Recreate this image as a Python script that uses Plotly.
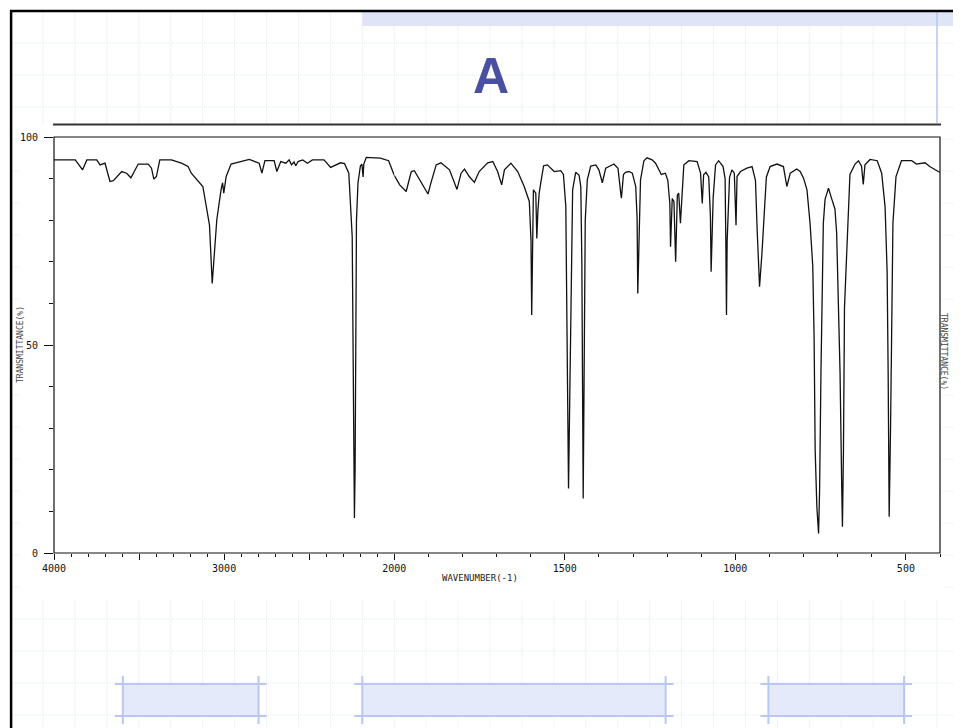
import plotly.graph_objects as go

# ---- data ----
wavenumber = [4000, 3875, 3832, 3807, 3749, 3729, 3700, 3671, 3651, 3602, 3573, 3548, 3505, 3446, 3427, 3413,
              3398, 3378, 3310, 3251, 3212, 3193, 3125, 3105, 3086, 3070, 3057, 3043, 3018, 3009, 3002, 2988,
              2959, 2901, 2852, 2794, 2778, 2760, 2706, 2690, 2667, 2637, 2618, 2604, 2589, 2579, 2565, 2538,
              2510, 2481, 2413, 2374, 2316, 2292, 2267, 2247, 2243, 2238, 2234, 2230, 2226, 2222, 2213, 2199,
              2190, 2183, 2179, 2164, 2082, 2033, 2000, 1984, 1965, 1950, 1941, 1926, 1901, 1892, 1877, 1863,
              1838, 1816, 1804, 1794, 1780, 1765, 1751, 1726, 1711, 1697, 1685, 1677, 1658, 1638, 1619, 1604,
              1599, 1597, 1594, 1592, 1585, 1582, 1579, 1575, 1570, 1562, 1551, 1531, 1512, 1504, 1497, 1492,
              1489, 1485, 1482, 1477, 1468, 1458, 1453, 1450, 1446, 1443, 1440, 1434, 1424, 1409, 1400, 1390,
              1380, 1356, 1344, 1336, 1334, 1328, 1322, 1312, 1302, 1292, 1288, 1286, 1283, 1278, 1268, 1259,
              1244, 1234, 1217, 1205, 1198, 1192, 1190, 1185, 1180, 1175, 1170, 1166, 1161, 1156, 1151, 1136,
              1112, 1102, 1097, 1093, 1086, 1078, 1073, 1071, 1065, 1058, 1049, 1036, 1030, 1028, 1026, 1024,
              1020, 1017, 1010, 1003, 998, 995, 985, 966, 951, 941, 936, 929, 922, 915, 909, 898,
              878, 859, 849, 839, 820, 810, 800, 790, 781, 773, 769, 766, 761, 756, 753, 749,
              746, 742, 737, 727, 717, 708, 703, 698, 693, 688, 686, 683, 680, 676, 669, 664,
              649, 639, 630, 625, 620, 605, 584, 571, 561, 555, 552, 549, 545, 542, 538, 529,
              513, 483, 469, 444, 430, 405, 400]
transmittance = [94.5, 94.5, 92.1, 94.5, 94.5, 93.3, 93.7, 89.3, 89.5, 91.7, 91.3, 90.2, 93.5, 93.5, 92.5, 89.9,
                 90.5, 94.5, 94.5, 93.7, 92.9, 91.3, 88.1, 83.2, 78.8, 64.8, 72.8, 80.1, 87.3, 89.0, 86.5, 90.5,
                 93.5, 94.1, 94.6, 93.7, 91.3, 94.3, 94.3, 91.7, 94.1, 93.7, 94.5, 93.3, 94.0, 93.1, 94.1, 94.5,
                 93.7, 94.5, 94.5, 92.7, 93.8, 93.6, 91.3, 76.0, 45.0, 18.0, 8.4, 20.0, 50.0, 80.0, 89.0, 93.0,
                 93.5, 90.4, 93.5, 95.1, 94.9, 94.3, 90.8, 88.5, 86.9, 91.7, 91.9, 89.9, 86.3, 89.1, 93.3, 93.8,
                 92.1, 87.4, 91.3, 92.3, 90.5, 89.1, 91.7, 93.8, 94.1, 91.7, 88.5, 92.1, 93.7, 91.7, 88.1, 84.5,
                 75.0, 57.2, 80.0, 87.3, 86.5, 75.6, 82.0, 86.5, 89.2, 93.1, 93.3, 91.7, 91.9, 91.0, 83.3, 30.4,
                 15.5, 40.0, 64.0, 87.3, 91.5, 90.8, 88.0, 70.0, 13.1, 40.0, 80.0, 89.7, 93.0, 93.3, 92.1, 89.0,
                 92.5, 93.5, 92.5, 86.5, 85.3, 91.0, 91.5, 91.7, 91.3, 88.1, 80.5, 62.4, 75.0, 89.7, 94.3, 95.0,
                 94.5, 93.7, 91.0, 91.3, 89.6, 84.0, 73.6, 85.2, 84.5, 70.0, 86.0, 86.5, 79.3, 87.3, 93.3, 94.3,
                 94.1, 91.3, 84.0, 90.9, 91.5, 90.4, 80.8, 67.6, 85.4, 93.3, 94.3, 92.9, 90.0, 76.0, 57.2, 75.0,
                 86.0, 90.3, 92.1, 91.3, 78.8, 90.5, 91.7, 92.5, 92.9, 89.6, 77.6, 64.0, 72.0, 83.2, 90.4, 92.9,
                 93.5, 92.9, 88.1, 91.3, 92.3, 91.7, 90.1, 87.3, 79.3, 69.0, 51.2, 24.8, 11.1, 4.7, 15.0, 43.3,
                 59.2, 79.3, 85.0, 87.7, 85.0, 82.7, 77.0, 59.2, 43.3, 15.3, 6.3, 25.0, 59.0, 67.0, 83.0, 91.0,
                 93.5, 94.3, 93.0, 88.6, 93.3, 94.6, 94.3, 91.3, 83.2, 67.6, 43.3, 8.7, 30.0, 60.0, 79.3, 90.5,
                 94.3, 94.3, 93.5, 93.8, 92.9, 91.7, 91.5]

x_ticks_hi = [4000, 3500, 3000, 2500]
x_ticklabels_hi = ["4000", "", "3000", ""]
x_ticks_lo = [2000, 1500, 1000, 500]
x_ticklabels_lo = ["2000", "1500", "1000", "500"]
y_ticks = [0, 50, 100]
y_ticklabels = ["0", "50", "100"]

title_text = "A"
x_label = "WAVENUMBER(-1)"
y_label = "TRANSMITTANCE(%)"

# ---- layout geometry (reference-picture pixels; page body adds an 8px offset) ----
OFF = 8
W, H = 961 - OFF, 728 - OFF
L0, R0, T0, B0 = 52, 940, 137, 553   # plot area in window pixels


def fx(x):
    return (x - L0) / (R0 - L0)


def fy(y):
    return (B0 - y) / (B0 - T0)


split = fx(393)

hi_x = [w for w in wavenumber if w >= 2000]
hi_y = [t for w, t in zip(wavenumber, transmittance) if w >= 2000]
lo_x = [w for w in wavenumber if w <= 2000]
lo_y = [t for w, t in zip(wavenumber, transmittance) if w <= 2000]

fig = go.Figure()
line_style = dict(color="#111111", width=1.3)
fig.add_trace(go.Scatter(x=hi_x, y=hi_y, mode="lines", line=line_style, xaxis="x", yaxis="y",
                         showlegend=False, hoverinfo="skip"))
fig.add_trace(go.Scatter(x=lo_x, y=lo_y, mode="lines", line=line_style, xaxis="x2", yaxis="y",
                         showlegend=False, hoverinfo="skip"))

tickfont = dict(family="DejaVu Sans Mono", size=10, color="#111111")
common_x = dict(showgrid=False, zeroline=False, showline=False, ticks="outside", ticklen=6,
                tickcolor="#111111", tickwidth=1, tickfont=tickfont, anchor="y", tickmode="array",
                minor=dict(dtick=100, tick0=0, ticks="outside", ticklen=3, tickcolor="#111111", showgrid=False))

shapes = []
grid_col = "#e3e8f7"
for k in range(0, 30):
    x = 41 + 32 * k
    shapes.append(dict(type="line", xref="paper", yref="paper", x0=fx(x), x1=fx(x), y0=fy(12), y1=fy(740),
                       line=dict(color=grid_col, width=1, dash="1px,1px"), layer="below"))
for k in range(0, 22):
    y = 43 + 32 * k
    shapes.append(dict(type="line", xref="paper", yref="paper", x0=fx(10), x1=fx(970), y0=fy(y), y1=fy(y),
                       line=dict(color=grid_col, width=1, dash="1px,1px"), layer="below"))
# white pasted image area
shapes.append(dict(type="rect", xref="paper", yref="paper", x0=fx(17), x1=fx(942), y0=fy(126), y1=fy(600),
                   fillcolor="white", line=dict(width=0), layer="below"))
# top-right band
shapes.append(dict(type="rect", xref="paper", yref="paper", x0=fx(361), x1=fx(975), y0=fy(12), y1=fy(26),
                   fillcolor="#dfe5f7", line=dict(width=0), layer="below"))
# vertical light blue line
shapes.append(dict(type="line", xref="paper", yref="paper", x0=fx(937), x1=fx(937), y0=fy(12), y1=fy(123),
                   line=dict(color="#b7c6ef", width=1.5), layer="below"))
# slide borders
shapes.append(dict(type="line", xref="paper", yref="paper", x0=fx(9), x1=fx(9), y0=fy(10), y1=fy(740),
                   line=dict(color="#000000", width=2.5)))
shapes.append(dict(type="line", xref="paper", yref="paper", x0=fx(8), x1=fx(975), y0=fy(11), y1=fy(11),
                   line=dict(color="#000000", width=2.5)))
# dark rule above the chart
shapes.append(dict(type="line", xref="paper", yref="paper", x0=fx(51), x1=fx(941), y0=fy(124.5), y1=fy(124.5),
                   line=dict(color="#333333", width=2)))
# bottom decorative boxes
for (a, b) in [(121, 257), (361, 665), (768, 904)]:
    shapes.append(dict(type="rect", xref="paper", yref="paper", x0=fx(a), x1=fx(b), y0=fy(684), y1=fy(716),
                       fillcolor="#e5eafa", line=dict(width=0), layer="below"))
    for yy in (684, 716):
        shapes.append(dict(type="line", xref="paper", yref="paper", x0=fx(a - 8), x1=fx(b + 8),
                           y0=fy(yy), y1=fy(yy), line=dict(color="#b9c7f1", width=2)))
    for xx in (a, b):
        shapes.append(dict(type="line", xref="paper", yref="paper", x0=fx(xx), x1=fx(xx),
                           y0=fy(676), y1=fy(724), line=dict(color="#b9c7f1", width=2)))
# plot frame
shapes.append(dict(type="rect", xref="paper", yref="paper", x0=0, x1=1, y0=0, y1=1,
                   line=dict(color="#111111", width=1.2)))

annotations = [
    dict(text=title_text, x=fx(490), y=fy(76), xref="paper", yref="paper", showarrow=False,
         xanchor="center", yanchor="middle",
         font=dict(family="Liberation Sans", size=50, color="#4B4FA0", weight="bold")),
    dict(text=x_label, x=fx(479), y=fy(578), xref="paper", yref="paper", showarrow=False,
         xanchor="center", yanchor="middle", font=dict(family="DejaVu Sans Mono", size=9, color="#222222")),
    dict(text=y_label, x=fx(18), y=fy(345), xref="paper", yref="paper", showarrow=False, textangle=-90,
         xanchor="center", yanchor="middle", font=dict(family="DejaVu Sans Mono", size=8, color="#444444")),
    dict(text=y_label, x=fx(944), y=fy(352), xref="paper", yref="paper", showarrow=False, textangle=90,
         xanchor="center", yanchor="middle", font=dict(family="DejaVu Sans Mono", size=8, color="#444444")),
]

fig.update_layout(
    width=W, height=H,
    margin=dict(l=L0 - OFF, r=(961 - OFF) - (R0 - OFF) - 0, t=T0 - OFF, b=(728 - OFF) - (B0 - OFF), pad=0),
    paper_bgcolor="white", plot_bgcolor="white",
    xaxis=dict(common_x, domain=[0, split], range=[4000, 2000], tickvals=x_ticks_hi, ticktext=x_ticklabels_hi),
    xaxis2=dict(common_x, domain=[split, 1], range=[2000, 400], tickvals=x_ticks_lo, ticktext=x_ticklabels_lo),
    yaxis=dict(range=[0, 100], domain=[0, 1], anchor="x", showgrid=False, zeroline=False, showline=False,
               ticks="outside", ticklen=9, tickcolor="#111111", tickfont=tickfont, tickmode="array",
               tickvals=y_ticks, ticktext=y_ticklabels, ticklabelstandoff=4,
               minor=dict(dtick=10, tick0=0, ticks="outside", ticklen=4, tickcolor="#111111", showgrid=False)),
    shapes=shapes,
    annotations=annotations,
    showlegend=False,
)

fig.write_html("out.html")
